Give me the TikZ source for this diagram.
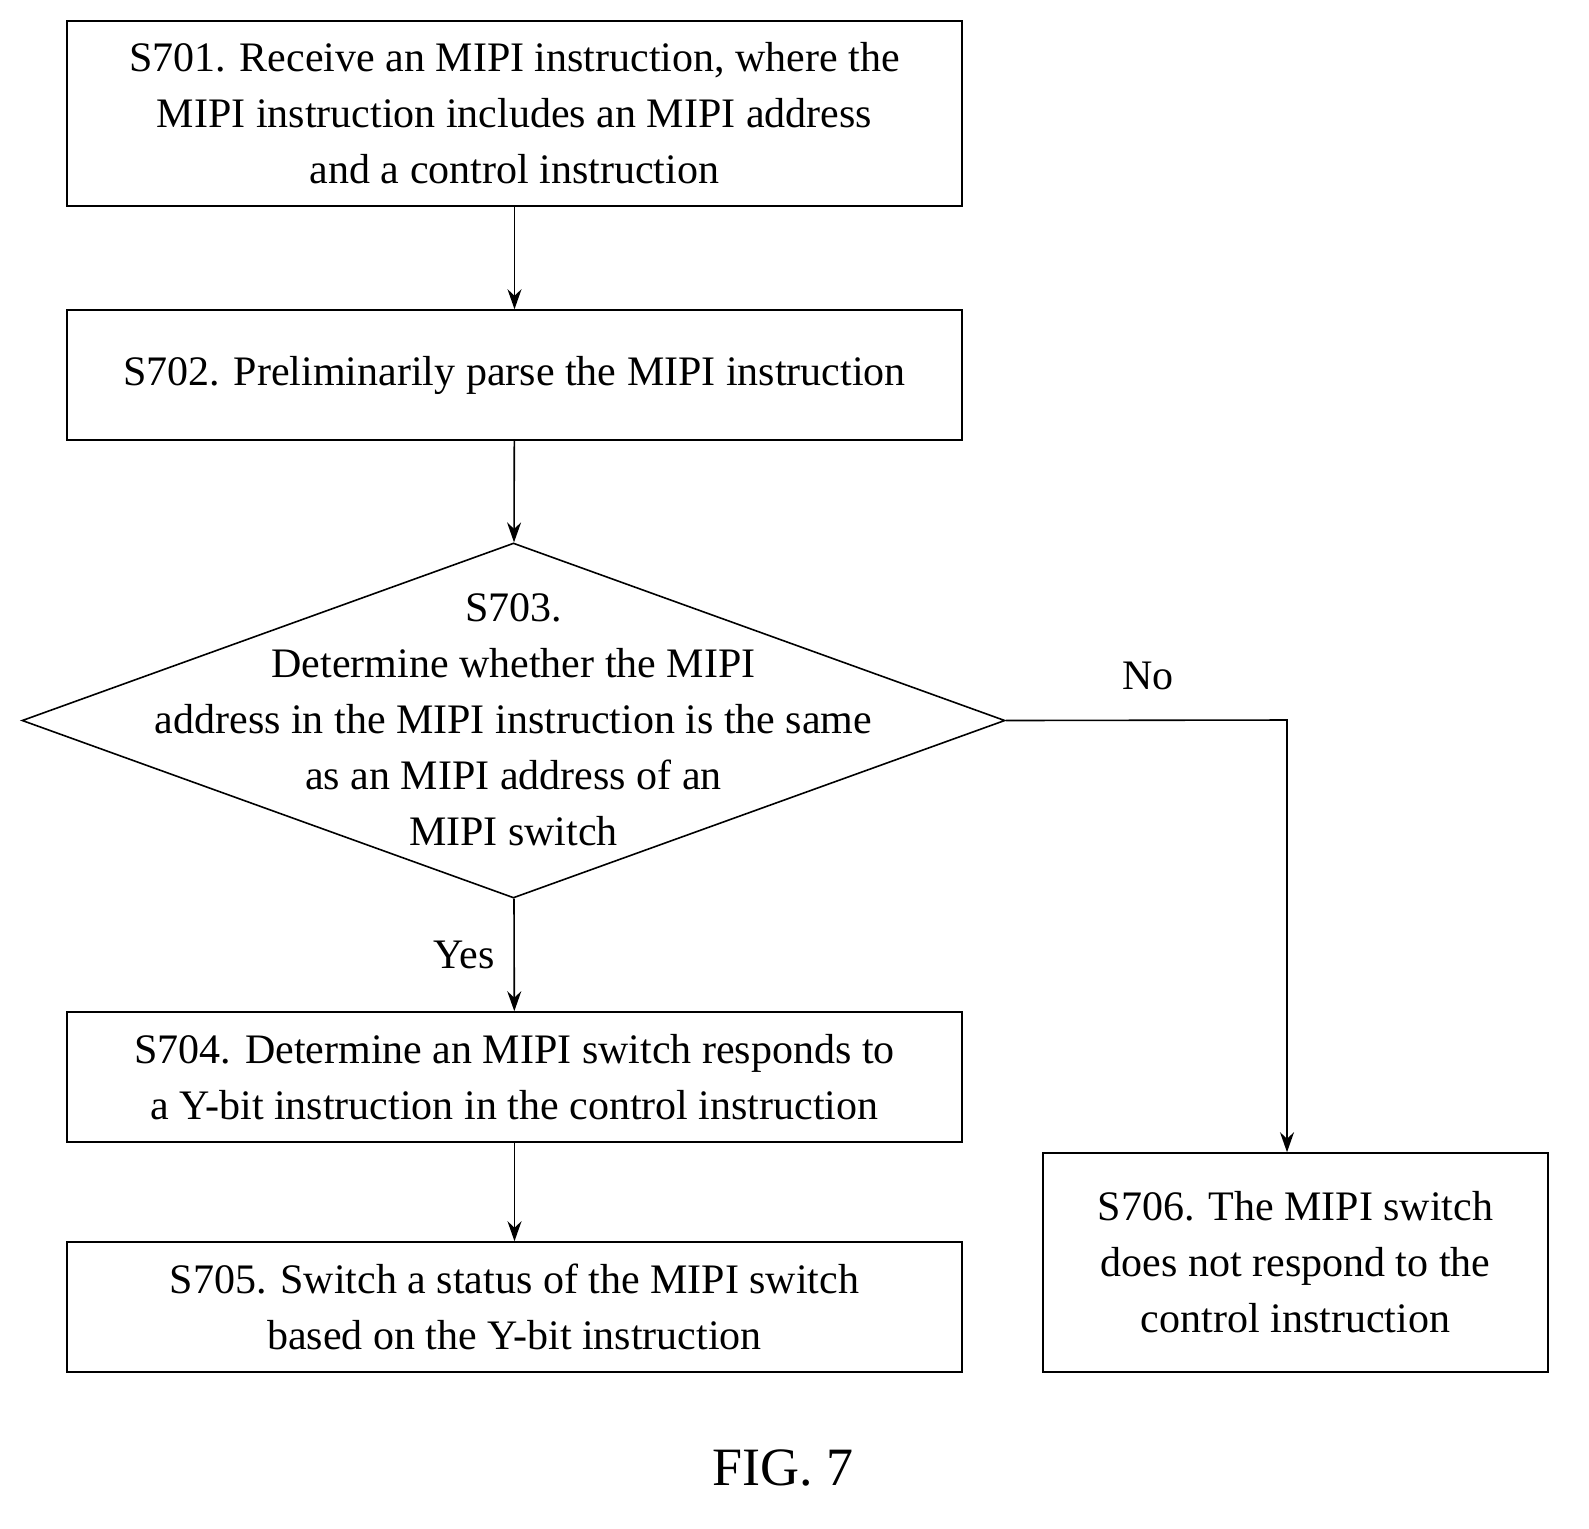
\documentclass[tikz,border=0pt]{standalone}
\usepackage{fontspec}
\setmainfont{Liberation Serif}
\usetikzlibrary{shapes.geometric,arrows.meta}
\begin{document}
\begin{tikzpicture}[
        x=0.5pt, y=-0.5pt,
        >={Stealth[length=10pt,width=7pt]},
        line width=0.8pt,
        every node/.style={font=\fontsize{21}{28}\selectfont},
        stepbox/.style={draw, rectangle, align=center, inner sep=0pt}
    ]
    \useasboundingbox (0,0) rectangle (1589,1528);
    % Boxes
    \node[stepbox, minimum width=447.5pt, minimum height=92.5pt] (s701) at (514.5,113.5)
      {S701. Receive an MIPI instruction, where the\\MIPI instruction includes an MIPI address\\and a control instruction};
    \node[stepbox, minimum width=447.5pt, minimum height=65pt] (s702) at (514.5,375)
      {S702. Preliminarily parse the MIPI instruction};
    \node[draw, diamond, minimum width=491.5pt, minimum height=177.5pt, inner sep=0pt] (s703) at (513.5,720.5) {};
    \node[align=center] (s703t) at (513.5,720) {S703.\\Determine whether the MIPI\\address in the MIPI instruction is the same\\as an MIPI address of an\\MIPI switch};
    \node[stepbox, minimum width=447.5pt, minimum height=65pt] (s704) at (514.5,1077)
      {S704. Determine an MIPI switch responds to\\a Y-bit instruction in the control instruction};
    \node[stepbox, minimum width=447.5pt, minimum height=65pt] (s705) at (514.5,1307)
      {S705. Switch a status of the MIPI switch\\based on the Y-bit instruction};
    \node[stepbox, minimum width=252.5pt, minimum height=109.5pt] (s706) at (1295.5,1262.5)
      {S706. The MIPI switch\\does not respond to the\\control instruction};
    \coordinate (turn) at (1287,720);
    % Arrows
    \draw[->] (s701) -- (s702);
    \draw[->] (s702) -- (s703);
    \draw[->] (s703) -- node[left, xshift=-6pt] {Yes} (s704);
    \draw[->] (s704) -- (s705);
    \draw[->] (s703.east) -- (turn) -- (turn |- s706.north);
    \node (no) at (1148,676) {No};
    % Caption
    \node[font=\fontsize{27}{32}\selectfont] (fig) at (783,1468) {FIG. 7};
\end{tikzpicture}
\end{document}
